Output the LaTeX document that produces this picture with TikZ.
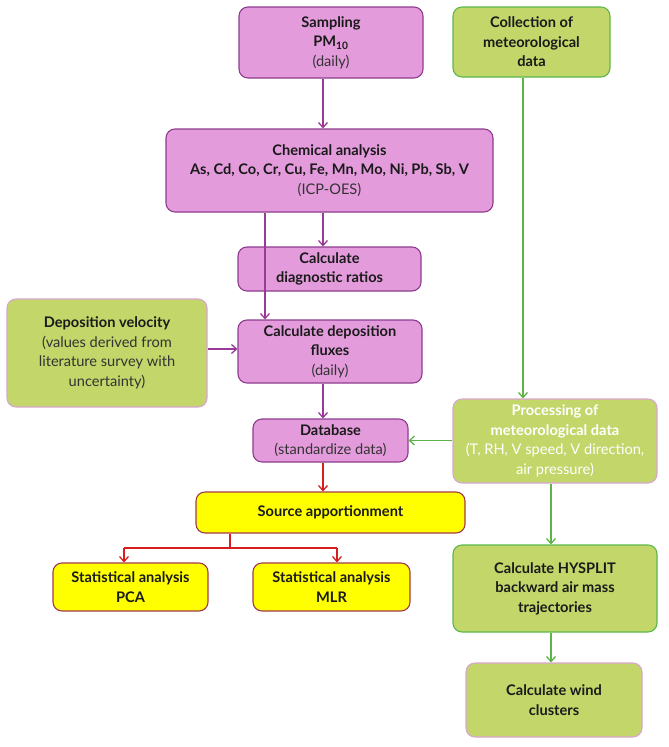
\documentclass[tikz,border=0pt]{standalone}
\usepackage{fontspec}
\setmainfont{Lato}
\usetikzlibrary{arrows.meta,calc}
\definecolor{pfill}{HTML}{E39BDC}
\definecolor{pdraw}{HTML}{8E3C8E}
\definecolor{parrow}{HTML}{993A99}
\definecolor{gfill}{HTML}{C2D66A}
\definecolor{gdraw}{HTML}{5CB84A}
\definecolor{gpink}{HTML}{D9A6CF}
\definecolor{garrow}{HTML}{5DB545}
\definecolor{yfill}{HTML}{FFFF00}
\definecolor{ydraw}{HTML}{A33A4A}
\definecolor{rarrow}{HTML}{D61E1E}
\definecolor{tdark}{HTML}{1A1A1A}
\definecolor{tgrey}{HTML}{333333}
\tikzset{
  box/.style={rectangle, rounded corners=9pt, line width=1.1pt, inner sep=0pt, align=center,
    text=tdark, font=\fontsize{14.6}{19.5}\selectfont},
  pbox/.style={box, fill=pfill, draw=pdraw},
  gbox/.style={box, fill=gfill, draw=gdraw},
  gpbox/.style={box, fill=gfill, draw=gpink},
  ybox/.style={box, fill=yfill, draw=ydraw},
  parr/.style={draw=parrow, line width=1.3pt, -{Straight Barb[length=5pt,width=9pt]}},
  garr/.style={draw=garrow, line width=1.3pt, -{Straight Barb[length=5pt,width=9pt]}},
  rarr/.style={draw=rarrow, line width=1.3pt, -{Straight Barb[length=5pt,width=9pt]}},
  rline/.style={draw=rarrow, line width=1.3pt},
}
\newcommand{\lt}[1]{{\fontseries{m}\selectfont\color{tgrey}#1}}
\begin{document}
\begin{tikzpicture}[x=1pt,y=-1pt]
\useasboundingbox (0,0) rectangle (669,747);
\coordinate (ax) at (323,0);
\coordinate (bx) at (265,0);
\coordinate (cx) at (523,0);
\coordinate (dx) at (551,0);
\coordinate (sx) at (230,0);
\coordinate (px) at (124,0);
\coordinate (mx) at (337,0);
\coordinate (by) at (0,548);
\coordinate (vy) at (0,349);

\node[pbox, minimum width=184pt, minimum height=71pt] (samp) at (331,42.5)
  {\bfseries Sampling\\ \bfseries PM\textsubscript{10}\\ \lt{(daily)}};
\node[gbox, minimum width=157pt, minimum height=70pt] (coll) at (531.5,42)
  {\bfseries Collection of\\ \bfseries meteorological\\ \bfseries data};
\node[pbox, minimum width=327pt, minimum height=83pt] (chem) at (329.5,170.5)
  {\bfseries Chemical analysis\\ \bfseries As, Cd, Co, Cr, Cu, Fe, Mn, Mo, Ni, Pb, Sb, V\\ \lt{(ICP-OES)}};
\node[pbox, minimum width=183pt, minimum height=44pt] (diag) at (329.5,269)
  {\bfseries Calculate\\ \bfseries diagnostic ratios};
\node[pbox, minimum width=184pt, minimum height=63pt] (flux) at (330,351.5)
  {\bfseries Calculate deposition\\ \bfseries fluxes\\ \lt{(daily)}};
\node[gpbox, minimum width=200pt, minimum height=108pt] (vel) at (107,353)
  {\bfseries Deposition velocity\\ \lt{(values derived from}\\ \lt{literature survey with}\\ \lt{uncertainty)}};
\node[pbox, minimum width=155pt, minimum height=43pt] (db) at (330.5,440.5)
  {\bfseries Database\\ \lt{(standardize data)}};
\node[gpbox, minimum width=204pt, minimum height=84pt, text=white] (proc) at (555,441)
  {\bfseries Processing of\\ \bfseries meteorological data\\ {\fontseries{m}\selectfont (T, RH, V speed, V direction,}\\ {\fontseries{m}\selectfont air pressure)}};
\node[ybox, minimum width=269pt, minimum height=41pt] (src) at (330.5,512.5)
  {\bfseries Source apportionment};
\node[ybox, minimum width=155pt, minimum height=48pt] (pca) at (130.5,587)
  {\bfseries Statistical analysis\\ \bfseries PCA};
\node[ybox, minimum width=157pt, minimum height=48pt] (mlr) at (331.5,587)
  {\bfseries Statistical analysis\\ \bfseries MLR};
\node[gbox, minimum width=204pt, minimum height=87pt] (hys) at (555,588.5)
  {\bfseries Calculate HYSPLIT\\ \bfseries backward air mass\\ \bfseries trajectories};
\node[gpbox, minimum width=176pt, minimum height=74pt] (wind) at (554,700)
  {\bfseries Calculate wind\\ \bfseries clusters};

\draw[parr] (samp.south -| ax) -- (chem.north -| ax);
\draw[parr] (chem.south -| ax) -- (diag.north -| ax);
\draw[parr] (chem.south -| bx) -- (flux.north -| bx);
\draw[parr] (vel.east |- vy) -- (flux.west |- vy);
\draw[parr] (flux.south -| ax) -- (db.north -| ax);
\draw[garr] (coll.south -| cx) -- (proc.north -| cx);
\draw[garr] (proc.west |- db) -- (db.east);
\draw[rarr] (db.south -| ax) -- (src.north -| ax);
\draw[rline] (src.south -| sx) -- (sx |- by);
\draw[rarr] (px |- by) -- (pca.north -| px);
\draw[rarr] (mx |- by) -- (mlr.north -| mx);
\draw[rline] (px |- by) -- (mx |- by);
\draw[garr] (proc.south -| dx) -- (hys.north -| dx);
\draw[garr] (hys.south -| dx) -- (wind.north -| dx);
\end{tikzpicture}
\end{document}
